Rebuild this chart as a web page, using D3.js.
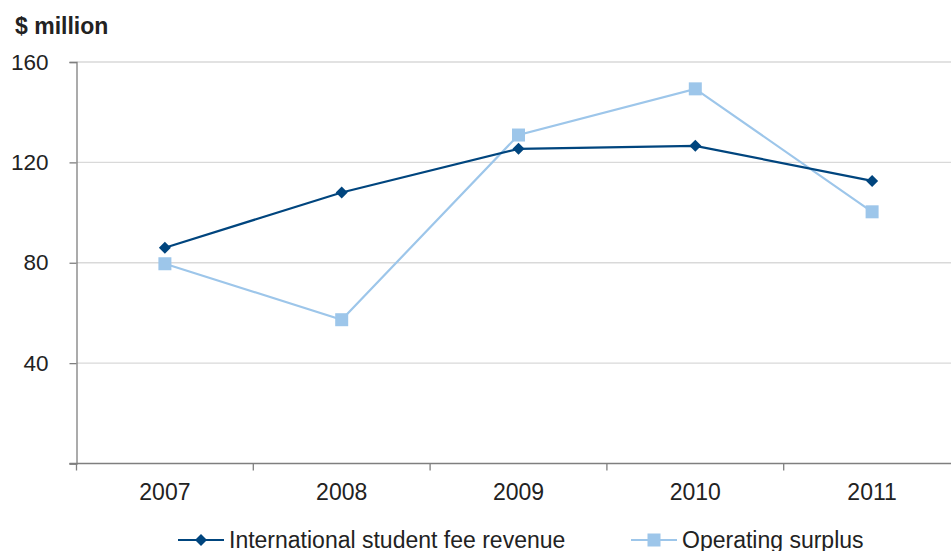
<!DOCTYPE html>
<html>
<head>
<meta charset="utf-8">
<script src="https://cdn.jsdelivr.net/npm/d3@7"></script>
<style>
  html, body { margin: 0; padding: 0; background: #fff; overflow: hidden; }
  text { font-family: "Liberation Sans", Arial, sans-serif; fill: #222; }
</style>
</head>
<body>
<svg id="chart" width="951" height="551"></svg>
<script>
// Chart data
const years = ["2007", "2008", "2009", "2010", "2011"];
const feeRevenue = [86, 108, 125.4, 126.6, 112.6];
const operatingSurplus = [79.6, 57.3, 130.9, 149.3, 100.3];
const yTicks = [0, 40, 80, 120, 160];
const seriesNames = ["International student fee revenue", "Operating surplus"];

(function () {
  const svg = d3.select("#chart");
  const plotLeft = 76.5, plotRight = 960.5, plotTop = 62, plotBottom = 463.5;

  const x = d3.scaleBand().domain(years).range([plotLeft, plotRight]);
  const y = d3.scaleLinear().domain([0, 160]).range([plotBottom, plotTop]);

  // Horizontal gridlines
  svg.append("g").selectAll("line")
    .data(yTicks.filter(d => d > 0))
    .join("line")
    .attr("x1", plotLeft).attr("x2", 951)
    .attr("y1", d => y(d)).attr("y2", d => y(d))
    .attr("stroke", "#d9d9d9").attr("stroke-width", 1.3);

  // Y axis
  const yAxis = svg.append("g")
    .attr("transform", `translate(${plotLeft},0)`)
    .call(d3.axisLeft(y).tickValues(yTicks).tickSize(7).tickPadding(21)
      .tickFormat(d => d === 0 ? "" : d));
  yAxis.select(".domain").attr("stroke", "#7f7f7f").attr("stroke-width", 1.3);
  yAxis.selectAll(".tick line").attr("stroke", "#7f7f7f").attr("stroke-width", 1.3);
  yAxis.selectAll(".tick text").style("font-size", "22.5px").attr("fill", "#222")
    .style("font-family", "'Liberation Sans', Arial, sans-serif");

  // X axis with ticks between categories
  const xAxis = svg.append("g").attr("transform", `translate(0,${plotBottom})`);
  xAxis.append("line").attr("x1", plotLeft - 7).attr("x2", 951)
    .attr("stroke", "#7f7f7f").attr("stroke-width", 1.3);
  const boundaries = years.map(d => x(d)).concat([x(years[years.length - 1]) + x.bandwidth()]);
  xAxis.selectAll(".xt").data(boundaries).join("line").attr("class", "xt")
    .attr("x1", d => d).attr("x2", d => d).attr("y1", 0).attr("y2", 7)
    .attr("stroke", "#7f7f7f").attr("stroke-width", 1.3);
  xAxis.selectAll(".xl").data(years).join("text").attr("class", "xl")
    .attr("x", d => x(d) + x.bandwidth() / 2).attr("y", 36)
    .attr("text-anchor", "middle").style("font-size", "23px").text(d => d);

  // Axis title
  svg.append("text").attr("x", 15).attr("y", 34)
    .style("font-size", "23px").style("font-weight", "bold").text("$ million");

  const cx = d => x(d) + x.bandwidth() / 2;
  const colors = ["#00457e", "#9dc6ea"];
  const line = d3.line().x(d => cx(d.year)).y(d => y(d.value));

  const series = [feeRevenue, operatingSurplus].map(vals =>
    years.map((yr, j) => ({ year: yr, value: vals[j] })));

  const diamondPath = d3.symbol().type(d3.symbolSquare).size(72)();

  // Operating surplus drawn first, fee revenue on top
  [1, 0].forEach(i => {
    svg.append("path").datum(series[i]).attr("d", line)
      .attr("fill", "none").attr("stroke", colors[i]).attr("stroke-width", 2.2);
  });
  [1, 0].forEach(i => {
    const g = svg.append("g");
    if (i === 1) {
      g.selectAll("rect").data(series[i]).join("rect")
        .attr("x", d => cx(d.year) - 6.5).attr("y", d => y(d.value) - 6.5)
        .attr("width", 13).attr("height", 13).attr("fill", colors[i]);
    } else {
      g.selectAll("path").data(series[i]).join("path")
        .attr("transform", d => `translate(${cx(d.year)},${y(d.value)}) rotate(45)`)
        .attr("d", diamondPath)
        .attr("fill", colors[i]);
    }
  });

  // Legend
  const legendPos = [{ x: 178, tx: 229 }, { x: 631, tx: 682 }];
  legendPos.forEach((l, i) => {
    const ly = 540;
    const g = svg.append("g");
    g.append("line").attr("x1", l.x).attr("x2", l.x + 46).attr("y1", ly).attr("y2", ly)
      .attr("stroke", colors[i]).attr("stroke-width", 2.2);
    if (i === 0) {
      g.append("path").attr("transform", `translate(${l.x + 23},${ly}) rotate(45)`)
        .attr("d", diamondPath).attr("fill", colors[i]);
    } else {
      g.append("rect").attr("x", l.x + 23 - 6.5).attr("y", ly - 6.5)
        .attr("width", 13).attr("height", 13).attr("fill", colors[i]);
    }
    g.append("text").attr("x", l.tx).attr("y", ly + 7.5).style("font-size", "23px").text(seriesNames[i]);
  });
})();
</script>
</body>
</html>
